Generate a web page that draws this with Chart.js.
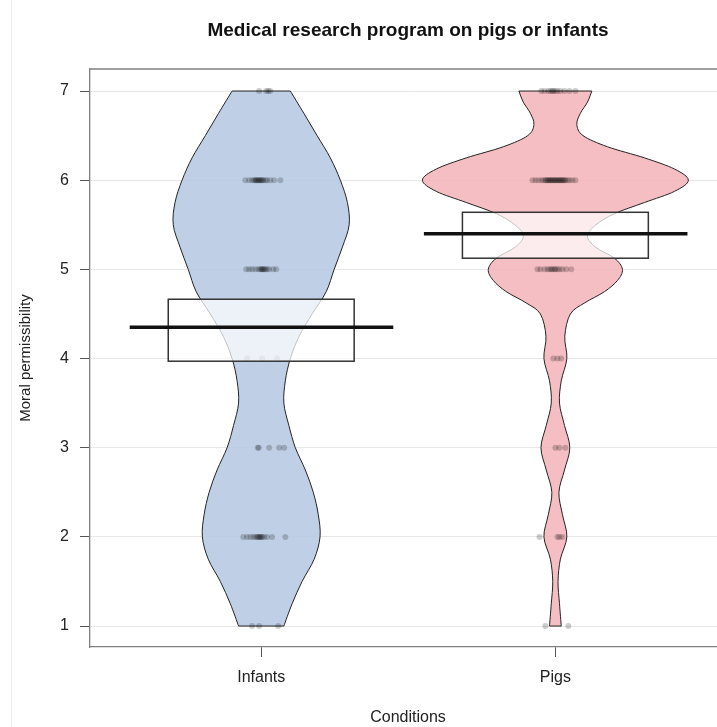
<!DOCTYPE html>
<html>
<head>
<meta charset="utf-8">
<script src="https://cdn.jsdelivr.net/npm/chart.js@4.4.1/dist/chart.umd.min.js"></script>
<style>
  html, body { margin: 0; padding: 0; background: #fff; overflow: hidden; }
  #wrap { position: relative; width: 740px; height: 727px; }
</style>
</head>
<body>
<div id="wrap"><canvas id="pirate"></canvas></div>
<script>
// categories and tick labels
var conditions = ['Infants', 'Pigs'];
var ratingTicks = [1, 2, 3, 4, 5, 6, 7];
var chartTitle = 'Medical research program on pigs or infants';

// raw ratings with the horizontal jitter (category units)
var infantsRatings = [7, 7, 7, 7,
  6, 6, 6, 6, 6, 6, 6, 6, 6, 6, 6, 6, 6, 6, 6, 6, 6, 6,
  5, 5, 5, 5, 5, 5, 5, 5, 5, 5, 5, 5, 5, 5, 5,
  4, 4, 4,
  3, 3, 3, 3, 3,
  2, 2, 2, 2, 2, 2, 2, 2, 2, 2, 2, 2, 2, 2, 2,
  1, 1, 1];
var infantsJitter = [-0.007, 0.017, 0.024, 0.031,
  -0.054, -0.041, -0.031, -0.024, -0.020, -0.017, -0.014, -0.010, -0.007, -0.003, 0, 0.003, 0.007, 0.014, 0.020, 0.031, 0.044, 0.065,
  -0.051, -0.041, -0.031, -0.020, -0.010, -0.003, 0, 0.003, 0.007, 0.010, 0.014, 0.020, 0.027, 0.041, 0.051,
  -0.048, 0.003, 0.054,
  -0.012, -0.008, 0.027, 0.061, 0.078,
  -0.061, -0.048, -0.037, -0.027, -0.020, -0.014, -0.010, -0.007, -0.003, 0, 0.003, 0.010, 0.020, 0.037, 0.082,
  -0.031, -0.007, 0.058];

var pigsRatings = [7, 7, 7, 7, 7, 7, 7, 7, 7, 7, 7, 7,
  6, 6, 6, 6, 6, 6, 6, 6, 6, 6, 6, 6, 6, 6, 6, 6, 6, 6, 6, 6, 6, 6, 6, 6, 6, 6, 6, 6, 6, 6,
  5, 5, 5, 5, 5, 5, 5, 5, 5, 5, 5, 5, 5, 5,
  4, 4, 4,
  3, 3, 3,
  2, 2, 2, 2,
  1, 1];
var pigsJitter = [-0.048, -0.037, -0.024, -0.017, -0.010, -0.007, 0, 0.007, 0.017, 0.031, 0.048, 0.068,
  -0.078, -0.068, -0.058, -0.048, -0.041, -0.034, -0.031, -0.027, -0.024, -0.020, -0.017, -0.014, -0.010, -0.007, -0.003,
  0, 0.003, 0.007, 0.010, 0.014, 0.017, 0.020, 0.024, 0.027, 0.031, 0.034, 0.041, 0.048, 0.058, 0.068,
  -0.061, -0.051, -0.037, -0.027, -0.020, -0.014, -0.010, -0.003, 0, 0.007, 0.014, 0.024, 0.037, 0.054,
  -0.007, 0.007, 0.020,
  0, 0.014, 0.034,
  -0.054, 0.007, 0.014, 0.024,
  -0.034, 0.044];

// bean outline: half width (category units) at each rating level
var infantsLevels = [7, 6.75, 6.5, 6.25, 6, 5.75, 5.5, 5.25, 5, 4.75, 4.5, 4.25, 4, 3.75, 3.5, 3.25, 3, 2.75, 2.5, 2.25, 2, 1.75, 1.5, 1.25, 1];
var infantsDensity = [0.099, 0.145, 0.190, 0.235, 0.269, 0.293, 0.299, 0.276, 0.248, 0.221, 0.173, 0.129, 0.099, 0.082, 0.077, 0.094, 0.116, 0.150, 0.177, 0.194, 0.200, 0.180, 0.139, 0.105, 0.077];
var pigsLevels = [7, 6.875, 6.75, 6.625, 6.5, 6.375, 6.25, 6.125, 6, 5.875, 5.75, 5.625, 5.5, 5.375, 5.25, 5.125, 5, 4.875, 4.75, 4.625, 4.5, 4.25, 4, 3.75, 3.5, 3.25, 3, 2.75, 2.5, 2.25, 2, 1.75, 1.5, 1.25, 1];
var pigsDensity = [0.124, 0.109, 0.085, 0.073, 0.094, 0.177, 0.303, 0.405, 0.452, 0.405, 0.303, 0.201, 0.138, 0.109, 0.136, 0.201, 0.228, 0.211, 0.167, 0.100, 0.051, 0.032, 0.039, 0.020, 0.014, 0.031, 0.049, 0.031, 0.012, 0.024, 0.039, 0.017, 0.009, 0.014, 0.020];

// mean and inference band
var means = [4.35, 5.40];
var bandLow = [3.97, 5.125];
var bandHigh = [4.665, 5.64];

var beanFill = ['rgba(180,200,226,0.85)', 'rgba(243,179,183,0.85)'];
var beans = [
  { levels: infantsLevels, density: infantsDensity },
  { levels: pigsLevels, density: pigsDensity }
];

function toPoints(ratings, jitter, pos) {
  return ratings.map(function(r, i) { return { x: pos + jitter[i], y: r }; });
}

// Catmull-Rom through pts (already in pixels), continuing the current path
function smoothThrough(ctx, pts) {
  for (var i = 0; i < pts.length - 1; i++) {
    var p0 = pts[i - 1] || pts[i], p1 = pts[i], p2 = pts[i + 1], p3 = pts[i + 2] || p2;
    ctx.bezierCurveTo(
      p1.x + (p2.x - p0.x) / 6, p1.y + (p2.y - p0.y) / 6,
      p2.x - (p3.x - p1.x) / 6, p2.y - (p3.y - p1.y) / 6,
      p2.x, p2.y);
  }
}

var font = '"Liberation Sans", Arial, Helvetica, sans-serif';

var piratePlugin = {
  id: 'pirate',
  beforeDatasetsDraw: function(chart) {
    var ctx = chart.ctx, xs = chart.scales.x, ys = chart.scales.y, a = chart.chartArea;
    ctx.save();
    ctx.beginPath();
    ctx.rect(a.left, a.top, a.right - a.left, a.bottom - a.top);
    ctx.clip();
    beans.forEach(function(b, g) {
      var pos = g + 1;
      var left = b.levels.map(function(l, i) { return { x: xs.getPixelForValue(pos - b.density[i]), y: ys.getPixelForValue(l) }; });
      var right = b.levels.map(function(l, i) { return { x: xs.getPixelForValue(pos + b.density[i]), y: ys.getPixelForValue(l) }; }).reverse();
      ctx.beginPath();
      ctx.moveTo(left[0].x, left[0].y);
      smoothThrough(ctx, left);
      ctx.lineTo(right[0].x, right[0].y);
      smoothThrough(ctx, right);
      ctx.closePath();
      ctx.fillStyle = beanFill[g];
      ctx.fill();
      ctx.lineWidth = 1;
      ctx.strokeStyle = '#222';
      ctx.stroke();
    });
    ctx.restore();
  },
  afterDatasetsDraw: function(chart) {
    var ctx = chart.ctx, xs = chart.scales.x, ys = chart.scales.y;
    ctx.save();
    conditions.forEach(function(c, g) {
      var pos = g + 1;
      var x0 = xs.getPixelForValue(pos - 0.316), x1 = xs.getPixelForValue(pos + 0.316);
      var yTop = ys.getPixelForValue(bandHigh[g]), yBot = ys.getPixelForValue(bandLow[g]);
      ctx.fillStyle = 'rgba(255,255,255,0.72)';
      ctx.fillRect(x0, yTop, x1 - x0, yBot - yTop);
      ctx.lineWidth = 1.5;
      ctx.strokeStyle = '#333';
      ctx.strokeRect(x0, yTop, x1 - x0, yBot - yTop);
      var ym = ys.getPixelForValue(means[g]);
      ctx.beginPath();
      ctx.moveTo(xs.getPixelForValue(pos - 0.447), ym);
      ctx.lineTo(xs.getPixelForValue(pos + 0.449), ym);
      ctx.lineWidth = 3.5;
      ctx.strokeStyle = '#111';
      ctx.stroke();
    });
    ctx.restore();
  },
  afterDraw: function(chart) {
    var ctx = chart.ctx, a = chart.chartArea;
    ctx.save();
    ctx.strokeStyle = '#808080';
    ctx.lineWidth = 1.3;
    ctx.beginPath();
    ctx.moveTo(a.left, a.top);
    ctx.lineTo(a.right, a.top);
    ctx.lineTo(a.right, a.bottom);
    ctx.stroke();
    ctx.strokeStyle = '#ececec';
    ctx.lineWidth = 1;
    ctx.beginPath();
    ctx.moveTo(11.5, 0);
    ctx.lineTo(11.5, chart.height);
    ctx.stroke();
    // title centred over the plot region like the R original
    ctx.fillStyle = '#111';
    ctx.font = 'bold 19px ' + font;
    ctx.textAlign = 'center';
    ctx.textBaseline = 'middle';
    ctx.fillText(chartTitle, (a.left + a.right) / 2, 31);
    ctx.restore();
  }
};

new Chart(document.getElementById('pirate'), {
  type: 'scatter',
  data: {
    datasets: [
      { label: conditions[0], data: toPoints(infantsRatings, infantsJitter, 1) },
      { label: conditions[1], data: toPoints(pigsRatings, pigsJitter, 2) }
    ]
  },
  options: {
    responsive: true,
    maintainAspectRatio: false,
    animation: false,
    layout: { padding: { top: 69, right: 14 } },
    elements: {
      point: { radius: 3, backgroundColor: 'rgba(0,0,0,0.2)', borderWidth: 0, hoverRadius: 3 }
    },
    scales: {
      x: {
        type: 'linear',
        min: 0.418,
        max: 2.58,
        afterBuildTicks: function(scale) {
          scale.ticks = conditions.map(function(c, i) { return { value: i + 1 }; });
        },
        afterFit: function(scale) { scale.height = 80; },
        ticks: {
          padding: 11,
          color: '#222',
          font: { family: font, size: 16 },
          callback: function(v) { return conditions[v - 1]; }
        },
        grid: { drawOnChartArea: false, drawTicks: true, tickLength: 10, tickColor: '#555' },
        border: { display: true, color: '#808080', width: 1.3 },
        title: { display: true, text: 'Conditions', color: '#222', padding: { top: 3, bottom: 0 }, font: { family: font, size: 16 } }
      },
      y: {
        min: 0.765,
        max: 7.247,
        afterBuildTicks: function(scale) {
          scale.ticks = ratingTicks.map(function(v) { return { value: v }; });
        },
        afterFit: function(scale) { scale.width = 90; },
        ticks: { padding: 11, color: '#222', font: { family: font, size: 16 } },
        grid: { color: '#e6e6e6', lineWidth: 1, drawTicks: true, tickLength: 10, tickColor: '#555' },
        border: { display: true, color: '#808080', width: 1.3 },
        title: { display: true, text: 'Moral permissibility', color: '#222', padding: { top: 17, bottom: 0 }, font: { family: font, size: 15 } }
      }
    },
    plugins: {
      legend: { display: false },
      tooltip: { enabled: false },
      title: { display: false }
    }
  },
  plugins: [piratePlugin]
});
</script>
</body>
</html>
